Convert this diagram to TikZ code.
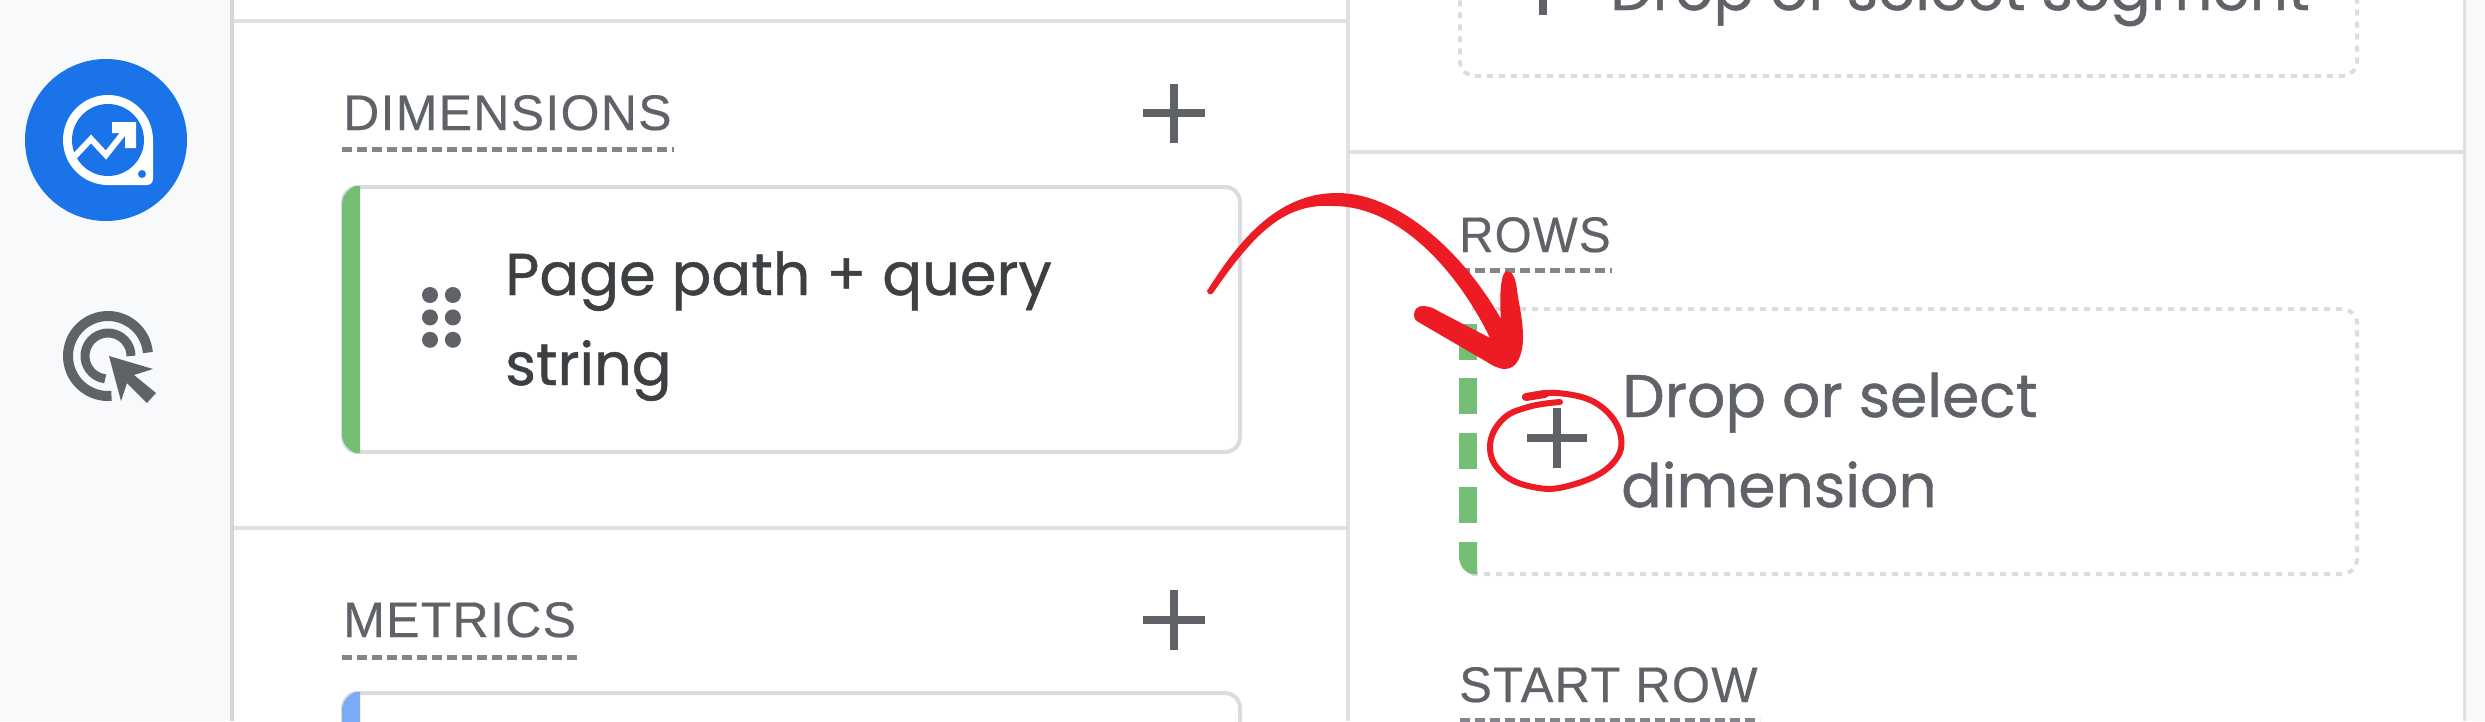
\documentclass[tikz,border=0pt]{standalone}
\usepackage{fontspec}
\usetikzlibrary{positioning}
\newfontfamily\headfont[LetterSpace=2.6,FakeBold=0.4]{Liberation Sans}
\newfontfamily\bodyfont[FakeBold=0.8]{Poppins}
\definecolor{sidebg}{HTML}{F8F9FB}
\definecolor{rule}{HTML}{E0E0E0}
\definecolor{sideline}{HTML}{D6D6D6}
\definecolor{boxline}{HTML}{DADCE0}
\definecolor{ink}{HTML}{5F6368}
\definecolor{darkink}{HTML}{3C4043}
\definecolor{underl}{HTML}{80868B}
\definecolor{gablue}{HTML}{1A73E8}
\definecolor{dimgreen}{HTML}{74BF75}
\definecolor{metblue}{HTML}{7BAAF7}
\definecolor{markred}{HTML}{ED1C24}
\tikzset{
      panelrule/.style={rule, line width=4pt}, % Lines between the panels
      heading/.style={
      anchor=base west,
      inner sep=0pt,
      text=ink,
      font=\headfont\fontsize{50}{50}\selectfont},
      dashline/.style={underl, line width=5pt, dash pattern=on 10pt off 5pt},
      cardtext/.style={
      anchor=base west,
      inner sep=0pt,
      align=left,
      text=darkink,
      font=\bodyfont\fontsize{59}{90}\selectfont},
      droptext/.style={cardtext, text=ink, font=\bodyfont\fontsize{60}{90}\selectfont},
      plusmark/.style={ink, line width=8pt},
      card/.style={
      draw=boxline,
      line width=4pt,
      rounded corners=15pt,
      inner sep=0pt,
      outer sep=0pt,
      minimum width=897pt},
      dropline/.style={boxline, line width=4pt, dash pattern=on 6pt off 6pt, rounded corners=15pt},
      gripdot/.style={circle, fill=ink, inner sep=0pt, minimum size=16pt}}

\begin{document}
\begin{tikzpicture}[x=1pt,y=-1pt]
      \useasboundingbox (0,0) rectangle (2485,721);
      \fill[white] (0,0) rectangle (2485,721);
      \fill[sidebg] (0,0) rectangle (231,721);
      \fill[sidebg] (2465,0) rectangle (2485,721);
      % panels
      \draw[sideline, line width=4pt] (232,0) -- (232,721);
      \draw[panelrule] (1348,0) -- (1348,721);
      \draw[panelrule, line width=3pt] (2464,0) -- (2464,721);
      \draw[panelrule] (234,21) -- (1346,21);
      \draw[panelrule] (234,528) -- (1346,528);
      \draw[panelrule] (1350,152) -- (2463,152);
      % side icons
      \node[circle, fill=gablue, inner sep=0pt, minimum size=162pt] (reporticon) at (106,140) {};
      \fill[white] (63,140) arc[start angle=180, end angle=360, radius=45]
            -- (153,178) .. controls (153,183) and (151,185) .. (146,185) -- (108,185)
            arc[start angle=90, end angle=180, radius=45] -- cycle;
      \fill[gablue] (108,140) circle[radius=36];
      \fill[gablue] (142,174) circle[radius=4];
      \draw[white, line width=6pt, line join=miter] (74,157) -- (91,139) -- (106,155) -- (129,126);
      \fill[white] (112,122) -- (136,122) -- (136,148) -- (125,148) -- (125,133) -- (112,133) -- cycle;
      \draw[ink, line width=10pt] (108,356) ++(85:40) arc[start angle=85, end angle=355, radius=40];
      \draw[ink, line width=9pt] (108,356) ++(97:23) arc[start angle=97, end angle=360, radius=23];
      \fill[sidebg] (103,352) -- (160,366) -- (160,410) -- (118,410) -- cycle;
      \fill[ink] (109,356) -- (153,369) -- (134,375) -- (156,393) -- (147,403) -- (127,383) -- (121,401) -- cycle;
      % left column
      \node[heading] (dimhead) at (343,130) {DIMENSIONS};
      \coordinate (dimlineA) at (342,149);
      \coordinate (dimlineB) at (674,149);
      \draw[dashline] (dimlineA) -- (dimlineB);
      \draw[plusmark] (1143,113) -- (1205,113) (1174,84) -- (1174,143);
      \node[card, minimum height=265pt, anchor=north west] (dimcard) at (343,187) {};
      \fill[dimgreen] (360,186) -- (355,186) .. controls (347,190) and (342,196) .. (342,205)
            -- (342,434) .. controls (342,443) and (347,449) .. (355,453) -- (360,453) -- cycle;
      \node[gripdot] (gripA) at (430,295) {};
      \node[gripdot, right=6.5pt of gripA] (gripB) {};
      \node[gripdot, below=6pt of gripA] (gripC) {};
      \node[gripdot, right=6.5pt of gripC] (gripD) {};
      \node[gripdot, below=6pt of gripC] (gripE) {};
      \node[gripdot, right=6.5pt of gripE] (gripF) {};
      \node[cardtext] (dimtext) at (505,295) {Page path + query};
      \node[cardtext] (dimtextb) at (505,385) {string};
      \node[heading] (methead) at (343,637) {METRICS};
      \coordinate (metlineA) at (342,657);
      \coordinate (metlineB) at (577,657);
      \draw[dashline] (metlineA) -- (metlineB);
      \draw[plusmark] (1143,620) -- (1205,620) (1174,590) -- (1174,650);
      \node[card, minimum height=100pt, anchor=north west] (metcard) at (343,693) {};
      \fill[metblue] (360,692) -- (355,692) .. controls (347,696) and (342,702) .. (342,711) -- (342,730) -- (360,730) -- cycle;
      % right column
      \node[card, dropline, draw=boxline, minimum width=897pt, minimum height=160pt, anchor=south west] (segcard) at (1460,76) {};
      \draw[ink, line width=8pt] (1543,0) -- (1543,15);
      \node[droptext] (segtext) at (1610,10) {Drop or select segment};
      \node[heading, xscale=0.95] (rowhead) at (1459,252) {ROWS};
      \coordinate (rowlineA) at (1460,270);
      \coordinate (rowlineB) at (1612,270);
      \draw[dashline] (rowlineA) -- (rowlineB);
      \coordinate (rowboxA) at (1472,309);
      \coordinate (rowboxB) at (1472,574);
      \draw[dropline] (rowboxA) -- (2357,309) -- (2357,574) -- (rowboxB);
      \foreach \y in {324,378,433,487} {
            \fill[dimgreen] (1459,\y) rectangle (1477,\y+36);
      }
      \fill[dimgreen] (1459,542) -- (1459,556) .. controls (1459,564) and (1463,571) .. (1471,574) -- (1477,574) -- (1477,542) -- cycle;
      \draw[plusmark] (1527,438) -- (1587,438) (1557,408) -- (1557,468);
      \node[droptext] (rowtext) at (1622,417) {Drop or select};
      \node[droptext] (rowtextb) at (1621,507) {dimension};
      \node[heading, xscale=0.98] (starthead) at (1459,702) {START ROW};
      \coordinate (startlineA) at (1460,720);
      \coordinate (startlineB) at (1760,720);
      \draw[dashline] (startlineA) -- (startlineB);
      % red marks
      \coordinate (dragstart) at (1207,291);
      \coordinate (droptip) at (1505,369);
      \fill[markred] (dragstart)
            .. controls (1236,245) and (1275,193) .. (1337,193)
            .. controls (1400,193) and (1465,255) .. (1501,319)
            .. controls (1499,295) and (1501,271) .. (1507,271)
            .. controls (1513,271) and (1516,280) .. (1517,290)
            .. controls (1519,305) and (1523,320) .. (1523,337)
            .. controls (1523,355) and (1517,369) .. (droptip)
            .. controls (1498,369) and (1490,364) .. (1487,362)
            -- (1420,323) .. controls (1414,320) and (1414,317) .. (1414,315)
            .. controls (1414,309) and (1418,306) .. (1423,306)
            .. controls (1430,306) and (1435,309) .. (1440,312)
            -- (1490,338)
            .. controls (1458,272) and (1400,206) .. (1333,206)
            .. controls (1285,203) and (1255,232) .. (1213,293)
            .. controls (1211,295) and (1208,295) .. (dragstart) -- cycle;
      \draw[markred, line width=6pt, line cap=round] plot[smooth, tension=0.7] coordinates {(1525,397) (1558,393) (1599,405) (1621,437) (1609,467) (1568,486) (1533,487) (1502,473) (1490,447) (1502,420) (1528,407) (1560,402)};
      \draw[markred, line width=8pt, line cap=round] (1526,397) -- (1545,394);
\end{tikzpicture}
\end{document}
